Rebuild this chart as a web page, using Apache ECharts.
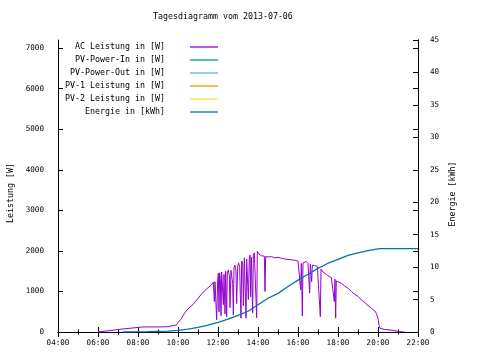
<!DOCTYPE html>
<html><head><meta charset="utf-8">
<script src="https://cdn.jsdelivr.net/npm/echarts@6/dist/echarts.min.js"></script>
<style>html,body{margin:0;padding:0;background:#fff}#c{width:480px;height:360px}</style>
</head><body><div id="c"></div>
<script>
const titleText = 'Tagesdiagramm vom 2013-07-06';
const seriesNames = ['AC Leistung in [W]','PV-Power-In in [W]','PV-Power-Out in [W]','PV-1 Leistung in [W]','PV-2 Leistung in [W]','Energie in [kWh]'];
const seriesColors = ['#9400d3','#009e73','#56b4e9','#e69f00','#f0e442','#0072b2'];
const xTickHours = [4,6,8,10,12,14,16,18,20,22];

const acTimes = ['06:00','06:25','06:50','07:15','07:45','08:15','09:00','09:30','09:40','09:55','10:00','10:10','10:20','10:30','10:45','11:00','11:10','11:20','11:30','11:40','11:46','11:49','11:51','11:54','11:56','11:59','12:01','12:03','12:05','12:07','12:09','12:11','12:14','12:16','12:18','12:21','12:23','12:26','12:28','12:31','12:34','12:36','12:39','12:42','12:44','12:46','12:48','12:51','12:54','12:56','12:59','13:02','13:05','13:07','13:09','13:11','13:14','13:16','13:19','13:22','13:24','13:26','13:29','13:31','13:34','13:36','13:38','13:40','13:42','13:44','13:46','13:49','13:52','13:54','13:56','13:58','14:01','14:05','14:10','14:15','14:19','14:21','14:23','14:30','14:40','14:50','15:00','15:10','15:20','15:30','15:40','15:50','16:00','16:05','16:08','16:10','16:13','16:15','16:20','16:25','16:30','16:35','16:37','16:41','16:43','16:50','16:58','17:04','17:07','17:09','17:15','17:25','17:33','17:40','17:46','17:49','17:51','17:53','17:55','18:00','18:10','18:20','18:30','18:40','18:50','19:00','19:10','19:20','19:30','19:40','19:50','19:55','20:00','20:03','20:06','20:20','20:45','21:05','21:20'];
const acWatts = [0,25,50,75,100,125,125,130,150,170,230,330,470,570,680,830,930,1020,1090,1160,1230,750,1240,1250,300,1260,1450,500,1460,1300,400,1480,1490,670,1420,450,1500,380,1450,1530,1400,600,1520,1560,1200,420,1600,1650,1500,700,1620,1700,1600,900,340,1750,1700,650,1830,1860,340,1800,1840,800,1820,1900,870,1850,1830,470,1900,1950,1920,1980,350,1990,1930,1890,1880,1860,1870,1000,1860,1850,1860,1830,1840,1820,1800,1790,1780,1770,1750,1720,1040,1690,395,1700,1720,1740,1690,960,1670,1240,1650,1640,1620,1600,380,1550,1480,1420,1370,1340,1320,750,1300,340,1260,1300,1200,1135,1080,1000,930,880,790,730,650,585,525,460,340,170,90,65,40,10,0];

const energyTimes = ['07:15','08:30','09:00','09:30','10:00','10:30','11:00','11:30','12:00','12:30','13:00','13:30','14:00','14:30','15:00','15:30','16:00','16:30','17:00','17:30','18:00','18:30','19:00','19:30','20:00','20:10','22:00'];
const energyKWh = [0,0.05,0.1,0.15,0.25,0.45,0.7,1.05,1.5,2.0,2.55,3.2,4.2,5.2,5.95,7.0,8.0,8.9,9.8,10.6,11.2,11.8,12.2,12.55,12.8,12.85,12.85];

const pvPowerIn = [];
const pvPowerOut = [];
const pv1 = [];
const pv2 = [];

function toHours(t){const p=t.split(':');return +p[0]+ +p[1]/60;}
const acData = acTimes.map((t,i)=>[toHours(t),acWatts[i]]);
const energyData = energyTimes.map((t,i)=>[toHours(t),energyKWh[i]]);

const FONT = 'DejaVu Sans Mono';
const tickFont = {fontFamily: FONT, fontSize: 7.6, color: '#000'};
const lineAx = {show:true, lineStyle:{color:'#000', width:1}};

const chart = echarts.init(document.getElementById('c'), null, {renderer:'canvas'});
function mk(name, idx, data, yIdx){
  return {name:name, type:'line', data:data, yAxisIndex:yIdx, xAxisIndex:0, showSymbol:false, symbol:'none',
    lineStyle:{color:seriesColors[idx], width: idx===5?1.3:1}, itemStyle:{color:seriesColors[idx]},
    color: seriesColors[idx], animation:false, silent:true};
}
chart.setOption({
  backgroundColor:'#fff',
  animation:false,
  title:{text:titleText, left:153, top:13, padding:0, textStyle:{fontFamily:FONT, fontSize:8.3, fontWeight:'normal', color:'#000'}},
  legend:{orient:'vertical', right:262, top:42, padding:0, align:'right', itemWidth:28, itemHeight:1.3, itemGap:3, icon:'rect',
    textStyle:{fontFamily:FONT, fontSize:8.3, color:'#000', lineHeight:10, padding:[0,20,0,0]},
    data: seriesNames, selectedMode:false},
  grid:{left:58, right:62, top:40, bottom:28},
  xAxis:[
    {type:'value', position:'bottom', min:4, max:22, interval:2, axisLine:lineAx,
     axisTick:{show:true, inside:true, length:5, lineStyle:{color:'#000'}},
     minorTick:{show:true, splitNumber:2, length:2.5, lineStyle:{color:'#000'}},
     splitLine:{show:false},
     axisLabel:Object.assign({margin:7, formatter:v=>(v<10?'0':'')+v+':00'}, tickFont)},
    {type:'value', position:'top', min:4, max:22, interval:2, axisLine:lineAx,
     axisTick:{show:true, inside:true, length:5, lineStyle:{color:'#000'}},
     minorTick:{show:true, splitNumber:2, length:2.5, lineStyle:{color:'#000'}},
     splitLine:{show:false}, axisLabel:{show:false}}
  ],
  yAxis:[
    {type:'value', position:'left', min:0, max:7200, interval:1000, axisLine:lineAx,
     axisTick:{show:true, inside:true, length:5, lineStyle:{color:'#000'}},
     splitLine:{show:false},
     axisLabel:Object.assign({margin:14, showMaxLabel:false, formatter:v=>String(v)}, tickFont)},
    {type:'value', position:'right', min:0, max:45, interval:5, axisLine:lineAx,
     axisTick:{show:true, inside:true, length:5, lineStyle:{color:'#000'}},
     splitLine:{show:false},
     axisLabel:Object.assign({margin:12, formatter:v=>String(v)}, tickFont)},
    {type:'value', position:'right', min:0, max:7200, interval:1000, axisLine:lineAx,
     axisTick:{show:true, inside:true, length:5, lineStyle:{color:'#000'}},
     splitLine:{show:false}, axisLabel:{show:false}}
  ],
  graphic:[
    {type:'text', x:11, y:193, rotation:Math.PI/2, style:{text:'Leistung [W]', fontFamily:FONT, fontSize:8.3, fill:'#000', align:'center', verticalAlign:'middle'}},
    {type:'text', x:453, y:194, rotation:Math.PI/2, style:{text:'Energie [kWh]', fontFamily:FONT, fontSize:8.3, fill:'#000', align:'center', verticalAlign:'middle'}}
  ],
  series:[
    mk(seriesNames[0],0,acData,0),
    mk(seriesNames[1],1,pvPowerIn,0),
    mk(seriesNames[2],2,pvPowerOut,0),
    mk(seriesNames[3],3,pv1,0),
    mk(seriesNames[4],4,pv2,0),
    mk(seriesNames[5],5,energyData,1)
  ]
});
</script></body></html>
